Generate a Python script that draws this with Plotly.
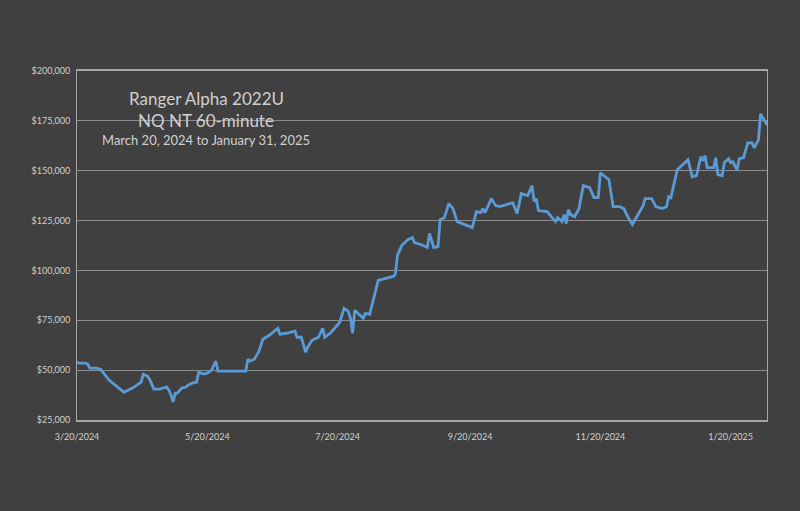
import plotly.graph_objects as go

dates = [
    "2024-03-20", "2024-03-21", "2024-03-24", "2024-03-25", "2024-03-26", "2024-03-27", "2024-03-29", "2024-03-31",
    "2024-04-01", "2024-04-04", "2024-04-08", "2024-04-11", "2024-04-15", "2024-04-18", "2024-04-19", "2024-04-20",
    "2024-04-22", "2024-04-23", "2024-04-25", "2024-04-28", "2024-04-29", "2024-05-01", "2024-05-02", "2024-05-03",
    "2024-05-04", "2024-05-05", "2024-05-06", "2024-05-08", "2024-05-10", "2024-05-11", "2024-05-13", "2024-05-15",
    "2024-05-16", "2024-05-18", "2024-05-20", "2024-05-22", "2024-05-24", "2024-05-25", "2024-05-29", "2024-06-02",
    "2024-06-07", "2024-06-08", "2024-06-09", "2024-06-11", "2024-06-13", "2024-06-15", "2024-06-18", "2024-06-22",
    "2024-06-23", "2024-06-26", "2024-06-30", "2024-07-01", "2024-07-03", "2024-07-05", "2024-07-06", "2024-07-08",
    "2024-07-10", "2024-07-11", "2024-07-13", "2024-07-14", "2024-07-17", "2024-07-20", "2024-07-21", "2024-07-23",
    "2024-07-25", "2024-07-26", "2024-07-27", "2024-07-28", "2024-07-29", "2024-08-01", "2024-08-02", "2024-08-04",
    "2024-08-08", "2024-08-11", "2024-08-15", "2024-08-16", "2024-08-17", "2024-08-19", "2024-08-22", "2024-08-24",
    "2024-08-25", "2024-08-28", "2024-08-31", "2024-09-01", "2024-09-03", "2024-09-05", "2024-09-06", "2024-09-08",
    "2024-09-10", "2024-09-12", "2024-09-14", "2024-09-21", "2024-09-23", "2024-09-25", "2024-09-26", "2024-09-27",
    "2024-09-30", "2024-10-02", "2024-10-04", "2024-10-10", "2024-10-12", "2024-10-14", "2024-10-17", "2024-10-19",
    "2024-10-20", "2024-10-21", "2024-10-22", "2024-10-26", "2024-10-29", "2024-10-30", "2024-10-31", "2024-11-02",
    "2024-11-03", "2024-11-04", "2024-11-05", "2024-11-06", "2024-11-08", "2024-11-10", "2024-11-12", "2024-11-15",
    "2024-11-17", "2024-11-19", "2024-11-20", "2024-11-24", "2024-11-26", "2024-11-29", "2024-12-01", "2024-12-03",
    "2024-12-05", "2024-12-07", "2024-12-10", "2024-12-11", "2024-12-14", "2024-12-16", "2024-12-19", "2024-12-21",
    "2024-12-22", "2024-12-23", "2024-12-26", "2024-12-31", "2025-01-02", "2025-01-04", "2025-01-06", "2025-01-07",
    "2025-01-08", "2025-01-09", "2025-01-12", "2025-01-13", "2025-01-14", "2025-01-16", "2025-01-17", "2025-01-19",
    "2025-01-20", "2025-01-21", "2025-01-23", "2025-01-24", "2025-01-26", "2025-01-28", "2025-01-30", "2025-01-31",
    "2025-02-02", "2025-02-03", "2025-02-06",
]

equity = [
    54000, 53500, 53500, 53000, 51000, 51000, 51000, 50500,
    49000, 45000, 41500, 39000, 41000, 43000, 44000, 48000,
    47000, 45500, 40500, 40500, 41000, 41500, 40000, 37500,
    34000, 38500, 38500, 41000, 41500, 42500, 43500, 44000,
    49000, 48000, 48500, 50000, 54500, 49500, 49500, 49500,
    49500, 55500, 54500, 55500, 59000, 65500, 67500, 71000,
    68000, 68500, 69500, 66500, 66500, 59000, 61500, 65000,
    66000, 66500, 71000, 66500, 69000, 72500, 74000, 81000,
    79500, 76000, 68500, 80000, 79000, 76000, 78500, 78000,
    95000, 96000, 97000, 98000, 107500, 112500, 115500, 116500,
    114000, 113000, 111500, 118500, 111500, 112000, 125500, 126500,
    133500, 131000, 124500, 121500, 129500, 129000, 131000, 129000,
    136000, 132500, 132000, 134000, 128500, 138500, 137500, 142500,
    134500, 136000, 130000, 129500, 126000, 124500, 126500, 124500,
    128000, 123500, 130500, 128000, 127000, 131000, 142500, 141500,
    136500, 136500, 149000, 145500, 132000, 132000, 131000, 126500,
    123000, 127000, 132500, 136000, 136000, 132000, 131000, 132000,
    137000, 136500, 150500, 155500, 147000, 147500, 157000, 155000,
    157500, 151500, 151500, 156500, 148000, 147500, 154000, 156000,
    154000, 154500, 150500, 156000, 156500, 164000, 164000, 161500,
    165500, 178500, 173000,
]

x_tick_dates = ["2024-03-20", "2024-05-20", "2024-07-20", "2024-09-20", "2024-11-20", "2025-01-20"]
x_tick_labels = ["3/20/2024", "5/20/2024", "7/20/2024", "9/20/2024", "11/20/2024", "1/20/2025"]
y_ticks = [25000, 50000, 75000, 100000, 125000, 150000, 175000, 200000]

title_lines = ["Ranger Alpha 2022U", "NQ NT 60-minute", "March 20, 2024 to January 31, 2025"]

BG = "#404040"
GRID = "#8c8c8c"
TEXT = "#d0d0d0"
FONT = "Lato"

fig = go.Figure()
fig.add_trace(go.Scatter(
    x=dates, y=equity, mode="lines",
    line=dict(color="#5b9bd5", width=2.8),
    hoverinfo="skip", showlegend=False,
))

fig.update_layout(
    width=800, height=511,
    paper_bgcolor=BG, plot_bgcolor=BG,
    margin=dict(l=77, r=33, t=71, b=91),
    font=dict(family=FONT, color=TEXT, size=9),
    showlegend=False,
    xaxis=dict(
        type="date",
        range=["2024-03-20", "2025-02-06"],
        tickvals=x_tick_dates, ticktext=x_tick_labels,
        showgrid=False, zeroline=False,
        showline=True, linecolor="#a6a6a6", linewidth=2, mirror=True,
        ticks="", ticklen=0, ticklabelstandoff=7,
        tickfont=dict(family=FONT, size=9, color=TEXT),
    ),
    yaxis=dict(
        range=[25000, 200000],
        tickvals=y_ticks, tickformat="$,.0f",
        showgrid=True, gridcolor=GRID, gridwidth=1,
        zeroline=False,
        showline=True, linecolor="#a6a6a6", linewidth=1, mirror=True,
        ticks="", ticklen=0, ticklabelstandoff=4,
        tickfont=dict(family=FONT, size=9, color=TEXT),
    ),
    annotations=[
        dict(text=title_lines[0], x=0.187, y=0.92, xref="paper", yref="paper",
             showarrow=False, xanchor="center", yanchor="middle",
             font=dict(family=FONT, size=17, color=TEXT)),
        dict(text=title_lines[1], x=0.187, y=0.857, xref="paper", yref="paper",
             showarrow=False, xanchor="center", yanchor="middle",
             font=dict(family=FONT, size=17, color=TEXT)),
        dict(text=title_lines[2], x=0.187, y=0.802, xref="paper", yref="paper",
             showarrow=False, xanchor="center", yanchor="middle",
             font=dict(family=FONT, size=13, color=TEXT)),
    ],
)

fig.write_html(
    "out.html",
    config={"displayModeBar": False},
    post_script="document.body.style.margin='0px';document.body.style.background='#404040';",
)
